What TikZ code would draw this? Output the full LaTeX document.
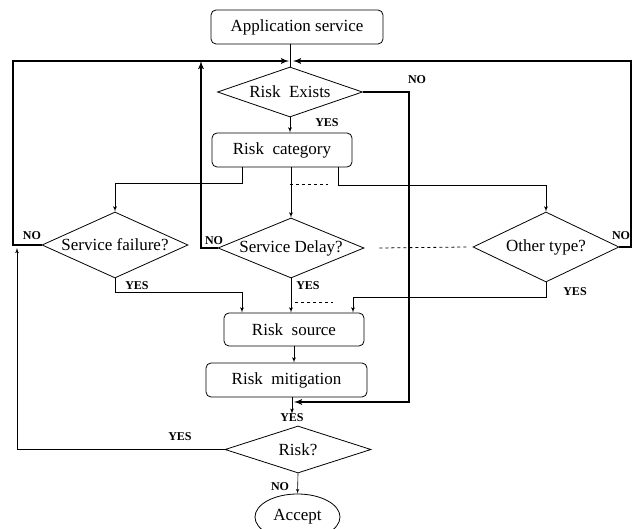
\documentclass[tikz,border=0pt]{standalone}
\usepackage{fontspec}
\setmainfont{Liberation Serif}
\usetikzlibrary{arrows,shapes}
\newcommand{\dtext}[1]{\makebox[0pt]{#1}}
\tikzset{
    %Define standard arrow tip
    >=latex',
    %Define style for boxes
    flownode/.style={
             rectangle, rounded corners=5pt,
             draw=black, line width=0.8pt,
             inner sep=0pt,
             font=\fontsize{17}{19}\selectfont},
    decnode/.style={
             diamond,
             draw=black, line width=0.8pt,
             inner sep=0pt,
             font=\fontsize{17}{19}\selectfont},
    endnode/.style={
             ellipse,
             draw=black, line width=0.8pt,
             inner sep=0pt,
             font=\fontsize{17}{19}\selectfont},
    answer/.style={
             inner sep=0pt,
             font=\bfseries\fontsize{12}{12}\selectfont},
    % Define arrow style
    flowarrow/.style={
            ->,
            line width=0.8pt},
    looparrow/.style={
            ->,
            line width=1.8pt},
    dashline/.style={
            dashed,
            line width=0.8pt}
}
\begin{document}
\begin{tikzpicture}[x=1pt,y=-1pt]
    \useasboundingbox (0,0) rectangle (632,529);
    \node[flownode, minimum width=172pt, minimum height=34pt] (app) at (297,27) {Application service};
    \node[decnode, minimum width=145pt, minimum height=50pt] (exists) at (290,92) {\dtext{Risk~~Exists}};
    \node[flownode, minimum width=140pt, minimum height=34pt] (category) at (282,150) {Risk~~category};
    \node[decnode, minimum width=146pt, minimum height=66pt] (failure) at (115,245) {\dtext{Service failure?}};
    \node[decnode, minimum width=146pt, minimum height=60pt] (delay) at (291,248) {\dtext{Service Delay?}};
    \node[decnode, minimum width=146pt, minimum height=70pt] (other) at (546,247) {\dtext{Other type?}};
    \node[flownode, minimum width=140pt, minimum height=33pt] (source) at (294,329.5) {Risk~~source};
    \node[flownode, minimum width=161pt, minimum height=34pt] (mitigation) at (286.5,380) {Risk~~mitigation};
    \node[decnode, minimum width=146pt, minimum height=47pt] (risk) at (298,449.5) {\dtext{Risk?}};
    \node[endnode, minimum width=85pt, minimum height=46pt] (accept) at (297.5,517) {Accept};

    % answer labels
    \node[answer] (noexists) at (417,80) {NO};
    \node[answer] (yesexists) at (327,123) {YES};
    \node[answer] (nofailure) at (32,236) {NO};
    \node[answer] (nodelay) at (214,241) {NO};
    \node[answer] (noother) at (621,236) {NO};
    \node[answer] (yesfailure) at (137,286) {YES};
    \node[answer] (yesdelay) at (308,286) {YES};
    \node[answer] (yesother) at (575,292) {YES};
    \node[answer] (yesrisk) at (292,418) {YES};
    \node[answer] (yesloop) at (180,437) {YES};
    \node[answer] (norisk) at (280,487) {NO};

    % bend points
    \coordinate (top) at (290,61);
    \coordinate (lft) at (13,61);
    \coordinate (mid) at (201,61);
    \coordinate (rgt) at (631,61);
    \coordinate (catL) at (242,183);
    \coordinate (catR) at (338,185);
    \coordinate (failY) at (115,292);
    \coordinate (otherY) at (546,297);
    \coordinate (exNO) at (409,402);
    \coordinate (loopEnd) at (17,248);

    % main flow
    \draw[line width=0.8pt] (app.south -| exists.north) -- (exists.north);
    \draw[flowarrow] (exists.south) -- (exists.south |- category.north);
    \draw[flowarrow] (category.south -| catL) -- (catL) -| (failure.north);
    \draw[flowarrow] (category.south -| delay.north) -- (delay.north);
    \draw[flowarrow] (category.south -| catR) -- (catR) -| (other.north);
    \draw[flowarrow] (failure.south) -- (failY) -| ([xshift=-52pt]source.north);
    \draw[flowarrow] (delay.south) -- (delay.south |- source.north);
    \draw[flowarrow] (other.south) -- (otherY) -| ([xshift=59pt]source.north);
    \draw[flowarrow] (source.south) -- (source.south |- mitigation.north);
    \draw[flowarrow] (mitigation.south -| yesrisk) -- (yesrisk.north);
    \draw[flowarrow] (risk.west) -| (loopEnd);
    \draw[->, line width=0.6pt] (risk.south) -- (accept.north);

    % feedback loops
    \draw[looparrow] (failure.west) -| (lft) -- ([xshift=-1pt]top);
    \draw[looparrow] (delay.west) -| (mid);
    \draw[looparrow] (other.east) -| (rgt) -- ([xshift=3pt]top);
    \draw[looparrow] (exists.east) -| (exNO) -- ([xshift=2pt]exNO -| yesrisk);

    % other categories
    \draw[dashline] (290,184) -- (328,184);
    \draw[dashline] ([xshift=15pt]delay.east) -- ([xshift=-6pt]other.west);
    \draw[dashline] (295,302) -- (333,302);
\end{tikzpicture}
\end{document}
